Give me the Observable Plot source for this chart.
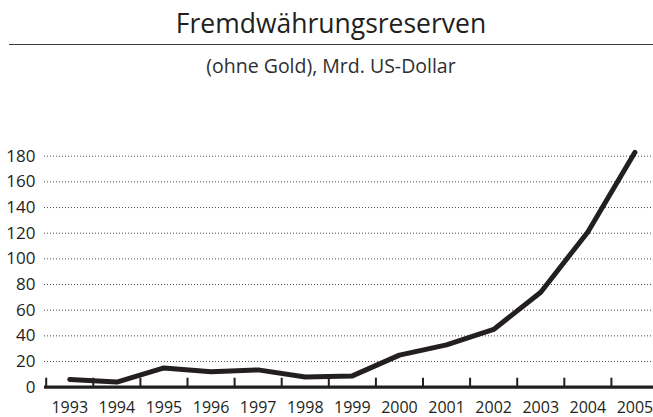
<!DOCTYPE html>
<html>
<head>
<meta charset="utf-8">
<script src="https://cdn.jsdelivr.net/npm/d3@7"></script>
<script src="https://cdn.jsdelivr.net/npm/@observablehq/plot@0.6"></script>
<style>
  html, body { margin: 0; padding: 0; background: #fff; }
  body { width: 653px; height: 417px; position: relative; overflow: hidden; font-family: "Open Sans", sans-serif; color: #231f20; }
  #header { position: relative; height: 90px; }
  #title { position: absolute; left: 9px; right: 0; top: 10px; text-align: center; font-size: 26.5px; line-height: 26px; }
  #rule { position: absolute; left: 9px; right: 0; top: 44px; height: 0; border-top: 1.5px solid #3a3a3a; }
  #subtitle { position: absolute; left: 9px; right: 0; top: 55.5px; text-align: center; font-size: 19.5px; line-height: 19px; color: #2e2e2e; }
  #chart svg { display: block; }
</style>
</head>
<body>
<div id="header">
  <div id="title">Fremdwährungsreserven</div>
  <div id="rule"></div>
  <div id="subtitle">(ohne Gold), Mrd. US-Dollar</div>
</div>
<div id="chart"></div>
<script>
const years = [1993, 1994, 1995, 1996, 1997, 1998, 1999, 2000, 2001, 2002, 2003, 2004, 2005];
const reserves = [6, 4, 15, 12, 13.5, 8, 8.8, 25, 33, 45, 74, 121, 183];
const yTicks = [0, 20, 40, 60, 80, 100, 120, 140, 160, 180];
const gridTicks = [20, 40, 60, 80, 100, 120, 140, 160, 180];

const data = years.map((year, i) => ({year, value: reserves[i]}));
const boundaries = years.map(y => y - 0.5);

const ink = "#231f20";

const chart = Plot.plot({
  width: 653,
  height: 327,
  marginLeft: 44,
  marginRight: 0,
  marginTop: 10,
  marginBottom: 30,
  style: {fontFamily: "'Open Sans', sans-serif", color: ink, background: "#fff", overflow: "visible"},
  x: {type: "linear", domain: [1992.5, 2005.5], range: [45.7, 658], label: null},
  y: {domain: [0, 180], range: [296.7, 65.7], label: null},
  marks: [
    Plot.gridY(gridTicks, {stroke: "#333", strokeOpacity: 0.9, strokeWidth: 1, strokeDasharray: "1 2"}),
    Plot.axisY(yTicks, {tickSize: 0, tickPadding: 9, fontSize: 17, tickFormat: d => String(d), fill: ink, label: null}),
    Plot.axisX(years, {tickSize: 0, tickPadding: 14, fontSize: 16, tickFormat: d => String(d), fill: ink, label: null}),
    Plot.ruleX(boundaries, {y1: 0, y2: 7, stroke: ink, strokeWidth: 2}),
    Plot.ruleY([0], {stroke: ink, strokeWidth: 3.3}),
    Plot.line(data, {x: "year", y: "value", stroke: ink, strokeWidth: 5, strokeLinecap: "round", strokeLinejoin: "round"})
  ]
});
document.getElementById("chart").appendChild(chart);
</script>
</body>
</html>
